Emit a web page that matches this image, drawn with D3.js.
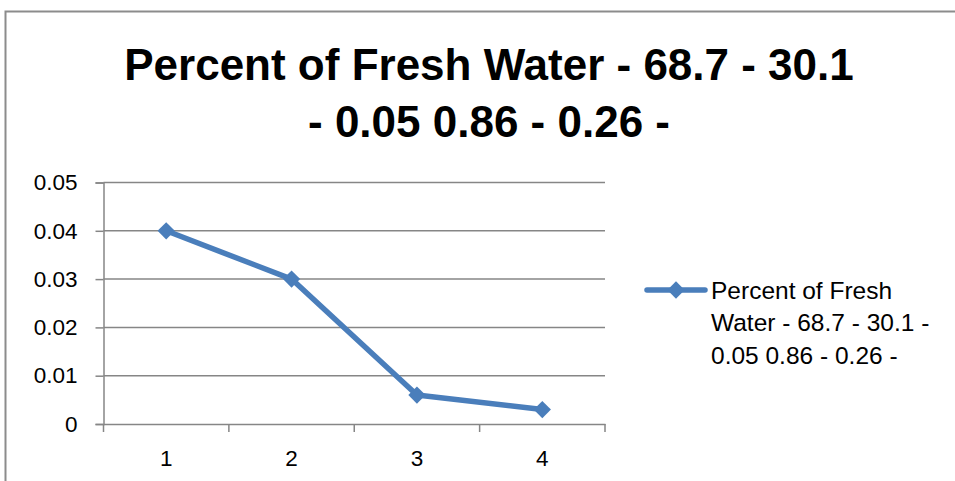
<!DOCTYPE html>
<html>
<head>
<meta charset="utf-8">
<script src="https://cdn.jsdelivr.net/npm/d3@7"></script>
<style>
  body { margin: 0; background: #fff; }
  svg { display: block; font-family: "Liberation Sans", Arial, sans-serif; }
</style>
</head>
<body>
<svg width="955" height="481"></svg>
<script>
// chart data
var categories = ["1", "2", "3", "4"];
var values = [0.04, 0.03, 0.006, 0.003];
var yTicks = [0, 0.01, 0.02, 0.03, 0.04, 0.05];
var titleLines = ["Percent of Fresh Water - 68.7 - 30.1", "- 0.05 0.86 - 0.26 -"];
var legendLines = ["Percent of Fresh", "Water - 68.7 - 30.1 -", "0.05 0.86 - 0.26 -"];

var svg = d3.select("svg"),
    margin = {top: 182.5, left: 103.5, right: 605, bottom: 424},
    gridColor = "#868686",
    lineColor = "#4A7EBB";

// outer frame of the chart area (runs off the right and bottom)
svg.append("rect")
    .attr("x", 5.5).attr("y", 11.5)
    .attr("width", 1000).attr("height", 600)
    .attr("fill", "none")
    .attr("stroke", "#8c8c8c")
    .attr("stroke-width", 2);

// title
svg.append("g").selectAll("text")
    .data(titleLines)
  .enter().append("text")
    .attr("x", 489)
    .attr("y", function(d, i) { return 80 + i * 57; })
    .attr("text-anchor", "middle")
    .style("font-weight", "bold")
    .style("font-size", "44px")
    .text(function(d) { return d; });

var x = d3.scaleBand().domain(categories).range([margin.left, margin.right]),
    y = d3.scaleLinear().domain([0, 0.05]).range([margin.bottom, margin.top]);

// horizontal gridlines
svg.append("g").selectAll("line")
    .data(yTicks.slice(1))
  .enter().append("line")
    .attr("x1", margin.left).attr("x2", margin.right)
    .attr("y1", function(d) { return y(d); })
    .attr("y2", function(d) { return y(d); })
    .attr("stroke", gridColor)
    .attr("stroke-width", 1.5);

// y axis
var yAxis = svg.append("g")
    .attr("transform", "translate(" + margin.left + ",0)")
    .call(d3.axisLeft(y).tickValues(yTicks).tickSize(8).tickPadding(18)
      .tickFormat(function(d) { return d === 0 ? "0" : d3.format(".2f")(d); }));
yAxis.select(".domain").attr("stroke", gridColor).attr("stroke-width", 1.5);
yAxis.selectAll(".tick line").attr("stroke", gridColor).attr("stroke-width", 1.5);
yAxis.selectAll("text").style("font-size", "22.5px").attr("fill", "#000");

// x axis: labels centred in each band, ticks on the band edges
var xAxis = svg.append("g")
    .attr("transform", "translate(0," + margin.bottom + ")")
    .call(d3.axisBottom(x).tickSize(0).tickPadding(26));
xAxis.select(".domain").attr("stroke", gridColor).attr("stroke-width", 1.5);
xAxis.selectAll("text").style("font-size", "22.5px").attr("fill", "#000");

var edges = categories.map(function(d) { return x(d); }).concat([x.range()[1]]);
xAxis.selectAll(".edge")
    .data(edges)
  .enter().append("line")
    .attr("class", "edge")
    .attr("x1", function(d) { return d; }).attr("x2", function(d) { return d; })
    .attr("y1", 0).attr("y2", 8)
    .attr("stroke", gridColor)
    .attr("stroke-width", 1.5);

// series line
var line = d3.line()
    .x(function(d, i) { return x(categories[i]) + x.bandwidth() / 2; })
    .y(function(d) { return y(d); });

svg.append("path")
    .datum(values)
    .attr("d", line)
    .attr("fill", "none")
    .attr("stroke", lineColor)
    .attr("stroke-width", 5.5)
    .attr("stroke-linejoin", "round");

var diamond = d3.symbol().type(d3.symbolDiamond2).size(190);

svg.append("g").selectAll("path")
    .data(values)
  .enter().append("path")
    .attr("d", diamond)
    .attr("transform", function(d, i) {
      return "translate(" + (x(categories[i]) + x.bandwidth() / 2) + "," + y(d) + ")";
    })
    .attr("fill", lineColor);

// legend
var legend = svg.append("g").attr("transform", "translate(647,290)");
legend.append("line")
    .attr("x1", 0).attr("x2", 58)
    .attr("stroke", lineColor)
    .attr("stroke-width", 5.5)
    .attr("stroke-linecap", "round");
legend.append("path")
    .attr("d", diamond)
    .attr("transform", "translate(29,0)")
    .attr("fill", lineColor);
legend.selectAll("text")
    .data(legendLines)
  .enter().append("text")
    .attr("x", 64)
    .attr("y", function(d, i) { return 8.5 + i * 32.5; })
    .style("font-size", "24.5px")
    .text(function(d) { return d; });
</script>
</body>
</html>
